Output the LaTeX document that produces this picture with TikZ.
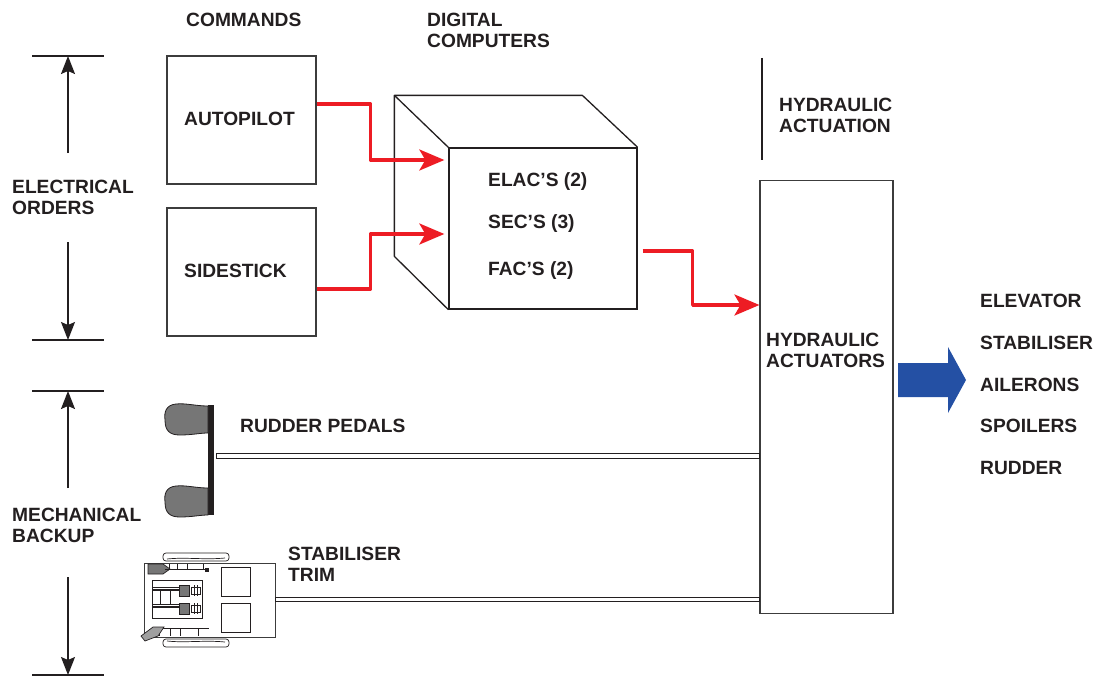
\documentclass[tikz,border=0pt]{standalone}
\usepackage{fontspec}
\usetikzlibrary{arrows.meta}
\newfontfamily\lbfont{Liberation Sans Bold}
\definecolor{ink}{HTML}{231F20}
\definecolor{frame}{HTML}{3C3C3C}
\definecolor{sigred}{HTML}{ED1C24}
\definecolor{flowblue}{HTML}{2450A4}
\definecolor{pedalgray}{HTML}{767676}

\begin{document}
\begin{tikzpicture}[x=1pt,y=-1pt,
  txt/.style={anchor=base west,inner sep=0pt,text=ink,font=\lbfont\fontsize{19.2}{20.5}\selectfont},
  txtml/.style={txt,anchor=north west,align=left},
  box/.style={draw=frame,line width=1.1pt,inner sep=0pt},
  cube/.style={draw=ink,line width=1.3pt,line join=round},
  sig/.style={draw=sigred,line width=3.2pt,line join=round,-{Stealth[length=25pt,width=21pt,inset=6pt]}},
  dim/.style={draw=ink,line width=1.5pt,-{Stealth[length=18pt,width=14pt,inset=3pt]}},
  tickline/.style={draw=ink,line width=1.5pt},
  rod/.style={draw=ink,line width=0.9pt,fill=white},
  mech/.style={draw=ink,line width=0.7pt},
  pedal/.style={fill=pedalgray,draw=ink,line width=0.8pt}]
\useasboundingbox (0,0) rectangle (1106,677);

% ---- column headings ----
\node[txt] (cmd) at (186,27) {COMMANDS};
\node[txtml] (dc) at (427,13) {DIGITAL\\COMPUTERS};
\node[txtml] (hact) at (779,98) {HYDRAULIC\\ACTUATION};
\draw[ink,line width=1.8pt] (762,58) coordinate (hv1) -- (762,160) coordinate (hv2);

% ---- electrical orders span ----
\node[txtml] (eo) at (12,180) {ELECTRICAL\\ORDERS};
\draw[tickline] (32,56) coordinate (et1) -- (104,56);
\draw[tickline] (32,340) coordinate (eb1) -- (104,340);
\coordinate (eu) at (68,153);
\coordinate (ed) at (68,242);
\draw[dim] (eu) -- (eu |- et1);
\draw[dim] (ed) -- (ed |- eb1);

% ---- mechanical backup span ----
\node[txtml] (mb) at (12,508) {MECHANICAL\\BACKUP};
\draw[tickline] (32,391) coordinate (mt1) -- (104,391);
\draw[tickline] (32,675) coordinate (mb1) -- (104,675);
\coordinate (mu) at (68,488);
\coordinate (md) at (68,577);
\draw[dim] (mu) -- (mu |- mt1);
\draw[dim] (md) -- (md |- mb1);

% ---- command boxes ----
\node[box,minimum width=149pt,minimum height=128pt] (ap) at (241.5,120) {};
\node[txt] at (184,125) {AUTOPILOT};
\node[box,minimum width=149pt,minimum height=128pt] (ss) at (241.5,272) {};
\node[txt] at (184,277) {SIDESTICK};

% ---- computer cube ----
\node[draw=ink,line width=1.3pt,inner sep=0pt,minimum width=188pt,minimum height=161pt] (fc) at (543,228.5) {};
\draw[cube] (fc.north west) -- ++(-54,-52) coordinate (btl) -- ++(188,0) coordinate (btr) -- (fc.north east);
\draw[cube] (btl) -- ++(0,161) -- (fc.south west);
\node[txt] at (488,186) {ELAC’S (2)};
\node[txt] at (488,228) {SEC’S (3)};
\node[txt] at (488,275) {FAC’S (2)};

% ---- hydraulic actuators ----
\node[draw=frame,line width=1.1pt,inner sep=0pt,minimum width=133pt,minimum height=433pt] (ha) at (826.5,397) {};
\node[txtml] at (766,333) {HYDRAULIC\\ACTUATORS};

% ---- electrical signal paths ----
\draw[sig] ([yshift=16pt]ap.east) -- ++(54,0) |- ([xshift=-4pt,yshift=68.5pt]fc.west);
\draw[sig] ([yshift=-17pt]ss.east) -- ++(54,0) |- ([xshift=-4pt,yshift=-5.5pt]fc.west);
\draw[sig] ([xshift=5pt,yshift=-22.5pt]fc.east) -- ++(50,0) |- ([yshift=92pt]ha.west);

% ---- output to control surfaces ----
\fill[flowblue] (898,363) -- (948,363) -- (948,347) -- (966,380) -- (948,413) -- (948,397) -- (898,397) -- cycle;
\node[txt] at (980,307) {ELEVATOR};
\node[txt] at (980,349) {STABILISER};
\node[txt] at (980,391) {AILERONS};
\node[txt] at (980,432) {SPOILERS};
\node[txt] at (980,474) {RUDDER};

% ---- rudder pedals ----
\fill[ink] (208,405) rectangle (214,515);
\filldraw[pedal] (208,406) .. controls (196,406) and (186,403) .. (176,404)
  .. controls (166,405) and (164,412) .. (165,420)
  .. controls (165,431) and (170,435) .. (180,435)
  .. controls (192,435) and (200,433) .. (208,433) -- cycle;
\begin{scope}[shift={(0,82)}]
\filldraw[pedal] (208,406) .. controls (196,406) and (186,403) .. (176,404)
  .. controls (166,405) and (164,412) .. (165,420)
  .. controls (165,431) and (170,435) .. (180,435)
  .. controls (192,435) and (200,433) .. (208,433) -- cycle;
\end{scope}
\node[txt] at (240,432) {RUDDER PEDALS};
\draw[rod] (216,453) coordinate (rp) rectangle (ha.west |- 0,458);

% ---- stabiliser trim wheel assembly ----
\begin{scope}[mech]
  \draw[draw=frame,line width=1pt] (144,563) rectangle (275,637);
  \draw (221,567) rectangle (250,596);
  \draw (221,603) rectangle (250,632);
  % trim wheels
  \draw[rounded corners=3pt] (163,553) rectangle (229,561);
  \draw (167,559) .. controls (185,557) and (205,560) .. (225,558);
  \draw[rounded corners=3pt] (163,639) rectangle (229,647);
  \draw (167,641) .. controls (185,643) and (205,640) .. (225,642);
  % upper lever and rail
  \filldraw[fill=pedalgray] (148,564) -- (163,564) -- (170,569) -- (163,574) -- (148,574) -- cycle;
  \draw[line width=1pt] (165,569.5) -- (207,569.5);
  \foreach \tx in {169,177,187,203} \draw (\tx,563.5) -- (\tx,569.5);
  \fill[ink] (205,567.5) rectangle (209,572);
  % lower lever and rail
  \draw[line width=1.6pt] (155,628.5) -- (209,628.5);
  \foreach \tx in {159,170,180,198} \draw (\tx,629) -- (\tx,636);
  \filldraw[fill=pedalgray!70] (141,636) -- (153,627) -- (164,627) -- (158,636) -- (145,641) -- cycle;
  % inner mechanism
  \draw (152,580) rectangle (202,618);
  \draw (153,587) -- (180,587);
  \draw[line width=1.2pt] (153,590) -- (180,590);
  \draw (153,604) -- (180,604);
  \draw[line width=1.2pt] (153,607) -- (180,607);
  \draw (160,590) -- (160,604);
  \draw (170,590) -- (170,604);
  \filldraw[fill=pedalgray] (179,585) rectangle (189,596);
  \filldraw[fill=pedalgray] (179,603) rectangle (189,614);
  \draw (191,587) rectangle (200,594);
  \draw (191,605) rectangle (200,612);
  \draw (194,585) -- (194,596) (197,585) -- (197,596);
  \draw (194,603) -- (194,614) (197,603) -- (197,614);
\end{scope}
\node[txtml] at (288,547) {STABILISER\\TRIM};
\draw[rod] (275,597) coordinate (st) rectangle (ha.west |- 0,601);

\end{tikzpicture}
\end{document}
